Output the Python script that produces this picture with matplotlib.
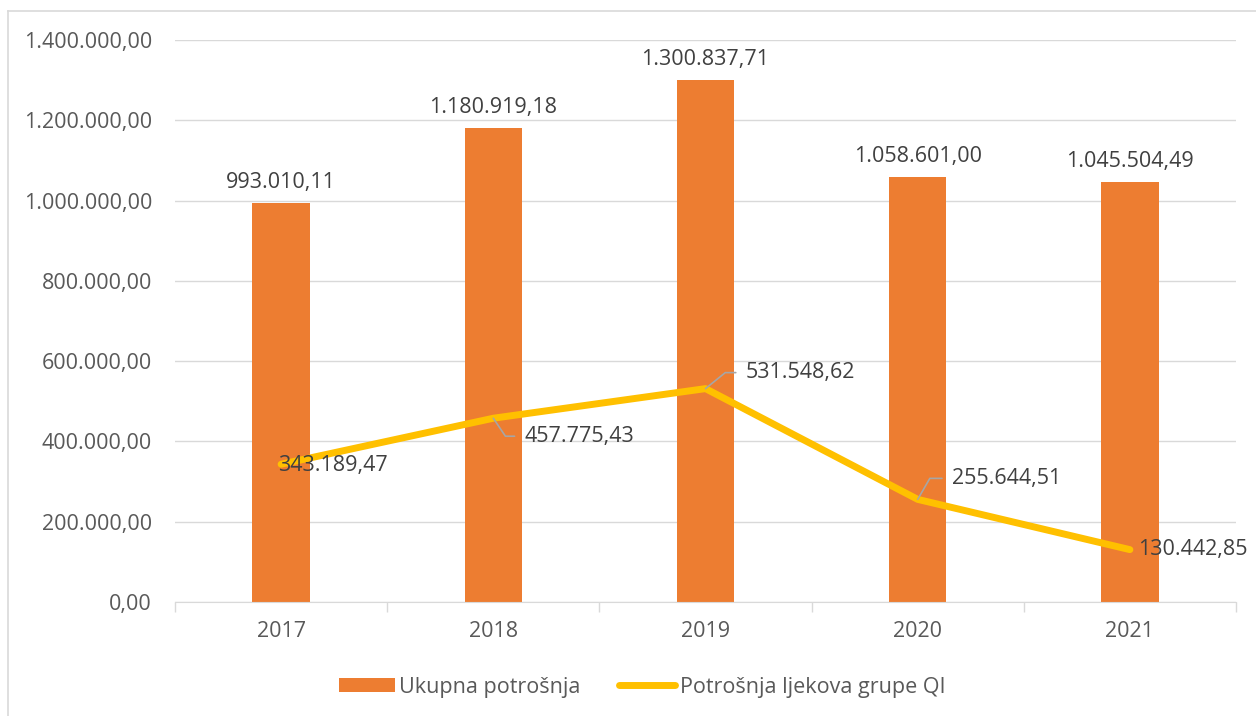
import matplotlib
matplotlib.use("Agg")
import matplotlib.pyplot as plt
import numpy as np
from matplotlib.lines import Line2D

years = ["2017", "2018", "2019", "2020", "2021"]
ukupna = [993010.11, 1180919.18, 1300837.71, 1058601.00, 1045504.49]
qi = [343189.47, 457775.43, 531548.62, 255644.51, 130442.85]
yticks = [0, 200000, 400000, 600000, 800000, 1000000, 1200000, 1400000]

# label offsets for the line values, in pixels (dx, dy, leader angle or None)
qi_offsets = [(-3, -1, None), (31, -18, -56), (40, 16, 39), (34, 21, 60), (8, 0, None)]


def fmt(v):
    s = f"{v:,.2f}"
    return s.replace(",", " ").replace(".", ",").replace(" ", ".")


plt.rcParams['font.family'] = ['Open Sans', 'DejaVu Sans']
fs = 15.5
grid_c = "#D9D9D9"
txt_c = "#595959"
lab_c = "#404040"

fig = plt.figure(figsize=(12.56, 7.16), dpi=100)
ax = fig.add_axes([175/1256, 1-602/716, (1236-175)/1256, (602-40)/716])

x = np.arange(len(years))
bars = ax.bar(x, ukupna, width=0.27, color="#ED7D31", label="Ukupna potrošnja", zorder=2)
line, = ax.plot(x, qi, color="#FFC000", lw=5, solid_capstyle="round", solid_joinstyle="round",
                label="Potrošnja ljekova grupe QI", zorder=3)

ax.set_xlim(-0.5, len(years)-0.5)
ax.set_ylim(0, 1400000)
ax.set_yticks(yticks)
ax.set_yticklabels([fmt(v) for v in yticks])
ax.set_xticks(x)
ax.set_xticklabels(years)
ax.set_xticks(np.arange(-0.5, len(years)), minor=True)
ax.tick_params(axis="y", length=0, pad=16.5, labelsize=fs, labelcolor=txt_c)
ax.tick_params(axis="x", which="major", length=0, pad=14, labelsize=fs, labelcolor=txt_c)
ax.tick_params(axis="x", which="minor", length=7, color=grid_c, width=1)
ax.grid(axis="y", color=grid_c, lw=1, zorder=0)
ax.set_axisbelow(True)
for s in ["top", "right", "left"]:
    ax.spines[s].set_visible(False)
ax.spines["bottom"].set_color(grid_c)

for i, v in enumerate(ukupna):
    ax.annotate(fmt(v), (i, v), xytext=(0, 10), textcoords="offset pixels",
                ha="center", va="bottom", fontsize=fs, color=lab_c)

for i, v in enumerate(qi):
    dx, dy, ang = qi_offsets[i]
    if ang is None:
        ax.annotate(fmt(v), (i, v), xytext=(dx, dy), textcoords="offset pixels",
                    ha="left", va="center", fontsize=fs, color=lab_c, zorder=4)
    else:
        ax.annotate(fmt(v), (i, v), xytext=(dx, dy), textcoords="offset pixels",
                    ha="left", va="center", fontsize=fs, color=lab_c, zorder=4,
                    arrowprops=dict(arrowstyle="-", color="#A6A6A6", lw=1.2,
                                    connectionstyle=f"angle,angleA=0,angleB={ang},rad=0",
                                    shrinkA=5, shrinkB=0, relpos=(0, 0.5)))

fig.legend([bars, line], ["Ukupna potrošnja", "Potrošnja ljekova grupe QI"],
           loc="center", bbox_to_anchor=(642/1256, 1-687/716), ncol=2, frameon=False,
           fontsize=fs, labelcolor=txt_c, handlelength=2.6, handleheight=0.65,
           handletextpad=0.2, columnspacing=1.8)

# light frame at left and top
fig.add_artist(Line2D([8/1256, 8/1256], [0, 1-11/716], color=grid_c, lw=1.2))
fig.add_artist(Line2D([8/1256, 1], [1-11/716, 1-11/716], color=grid_c, lw=1.2))

fig.savefig("out.png", dpi=100)
